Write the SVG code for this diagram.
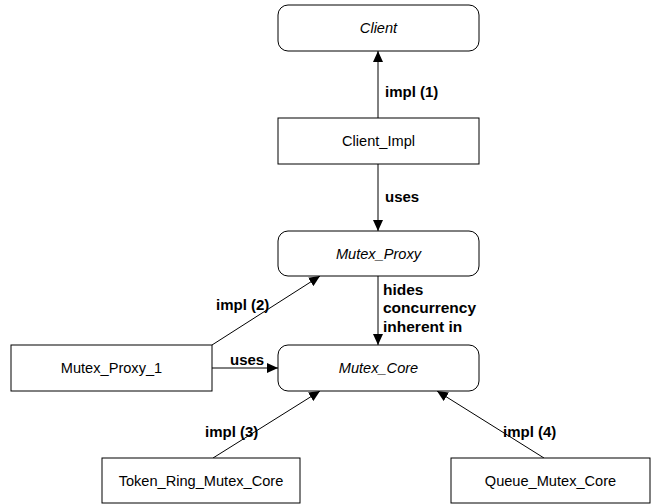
<svg xmlns="http://www.w3.org/2000/svg" width="655" height="504" viewBox="0 0 655 504">
<style>
.box{fill:#fff;stroke:#000;stroke-width:1}
.t{font-family:"Liberation Sans",Arial,sans-serif;font-size:14.6px;text-anchor:middle;fill:#000}
.i{font-style:italic}
.l{font-family:"Liberation Sans",Arial,sans-serif;font-size:15px;font-weight:bold;fill:#000}
.c{stroke:#000;stroke-width:1;fill:none;marker-end:url(#ah)}
</style>
<defs>
<marker id="ah" markerUnits="userSpaceOnUse" markerWidth="12" markerHeight="10" refX="11" refY="5" orient="auto">
<path d="M0,0 L11,5 L0,10 Z" fill="#000"/>
</marker>
</defs>
<rect width="655" height="504" fill="#fff"/>
<g id="connectors">
<line class="c" x1="378" y1="118" x2="378" y2="51"/>
<line class="c" x1="378" y1="164" x2="378" y2="231"/>
<line class="c" x1="378" y1="276" x2="378" y2="345"/>
<line class="c" x1="212" y1="368" x2="278" y2="368"/>
<line class="c" x1="212" y1="345" x2="320" y2="276"/>
<line class="c" x1="213" y1="458" x2="320" y2="391"/>
<line class="c" x1="544" y1="458" x2="437" y2="391"/>
</g>
<g id="labels">
<text class="l" x="385" y="97">impl (1)</text>
<text class="l" x="385" y="202">uses</text>
<text class="l" x="383" y="295" style="font-size:15.5px">hides</text>
<text class="l" x="383" y="313" style="font-size:15.5px">concurrency</text>
<text class="l" x="383" y="332" style="font-size:15.5px">inherent in</text>
<text class="l" x="216" y="310">impl (2)</text>
<text class="l" x="230" y="365">uses</text>
<text class="l" x="205" y="437">impl (3)</text>
<text class="l" x="503" y="437">impl (4)</text>
</g>
<g id="Client">
<rect class="box" x="278" y="5" width="201" height="46" rx="10"/>
<text class="t i" x="378.5" y="33">Client</text>
</g>
<g id="Client_Impl">
<rect class="box" x="278" y="118" width="201" height="46"/>
<text class="t" x="378.5" y="146">Client_Impl</text>
</g>
<g id="Mutex_Proxy">
<rect class="box" x="278" y="231" width="201" height="45" rx="10"/>
<text class="t i" x="378.5" y="259">Mutex_Proxy</text>
</g>
<g id="Mutex_Core">
<rect class="box" x="278" y="345" width="201" height="46" rx="10"/>
<text class="t i" x="378.5" y="373">Mutex_Core</text>
</g>
<g id="Mutex_Proxy_1">
<rect class="box" x="11" y="345" width="201" height="46"/>
<text class="t" x="111.5" y="373">Mutex_Proxy_1</text>
</g>
<g id="Token_Ring_Mutex_Core">
<rect class="box" x="102" y="458" width="198" height="45"/>
<text class="t" x="201" y="486">Token_Ring_Mutex_Core</text>
</g>
<g id="Queue_Mutex_Core">
<rect class="box" x="451" y="458" width="199" height="45"/>
<text class="t" x="550.5" y="486">Queue_Mutex_Core</text>
</g>
</svg>
